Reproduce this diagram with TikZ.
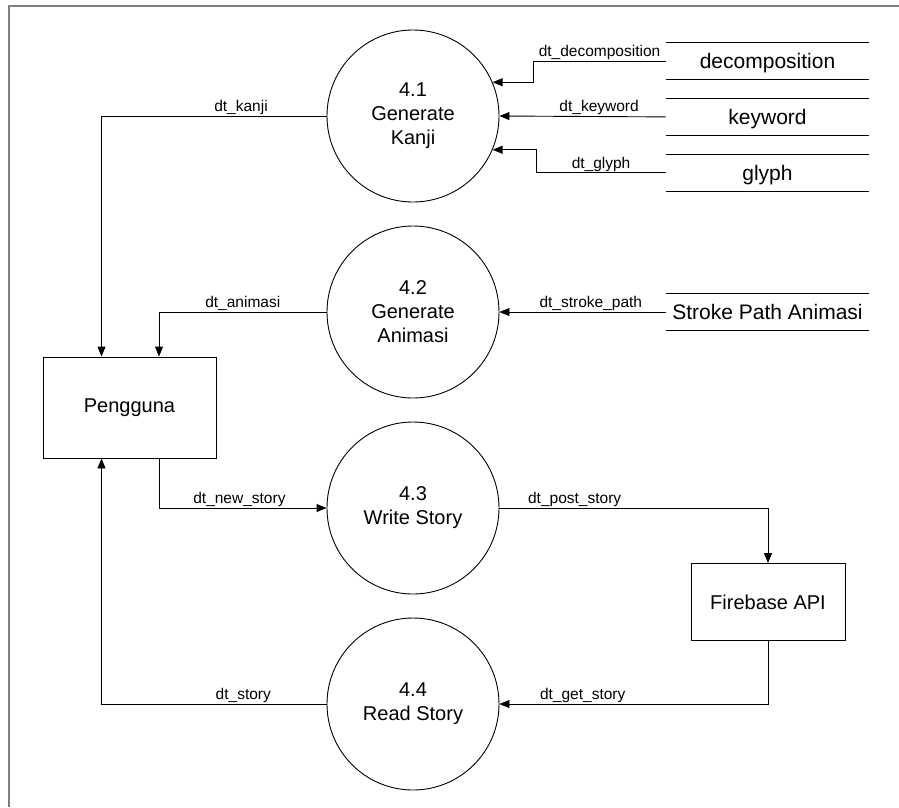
\documentclass[tikz,border=0pt]{standalone}
\usepackage{fontspec}
\setmainfont{Liberation Sans}
\usetikzlibrary{arrows.meta,positioning}

\begin{document}
\begin{tikzpicture}[x=1pt,y=-1pt,>={Triangle[length=10pt,width=8pt]},line width=0.9pt,
  proc/.style={circle,draw,minimum size=172pt,inner sep=0pt,align=center,font=\fontsize{20}{24}\selectfont},
  entity/.style={rectangle,draw,align=center,font=\fontsize{20}{24}\selectfont},
  store/.style={minimum width=203pt,minimum height=36pt,inner sep=0pt,text height=14.5pt,text depth=0pt,
    font=\fontsize{21}{24}\selectfont},
  flow/.style={->},
  lbl/.style={above,inner sep=1pt,font=\fontsize{15.5}{18}\selectfont}]
  \useasboundingbox (0,0) rectangle (899,807);
  \draw[black!50,line width=1.5pt] (9,807) -- (9,6) -- (899,6);

  % processes
  \node[proc] (p41) at (413,116) {4.1\\Generate\\Kanji};
  \node[proc] (p42) at (413,312) {4.2\\Generate\\Animasi};
  \node[proc] (p43) at (413,508) {4.3\\Write Story};
  \node[proc] (p44) at (413,704) {4.4\\Read Story};

  % external entities
  \node[entity,minimum width=173pt,minimum height=101pt] (pengguna) at (129.5,407.5) {Pengguna};
  \node[entity,minimum width=154pt,minimum height=77pt] (firebase) at (768,602) {Firebase API};

  % data stores
  \node[store] (sdec) at (767.5,61) {decomposition};
  \node[store,below=19pt of sdec] (skey) {keyword};
  \node[store,below=19pt of skey] (sgly) {glyph};
  \node[store] (sstr) at (767.5,312) {Stroke Path Animasi};
  \foreach \s in {sdec,skey,sgly,sstr}
    \draw (\s.north west) -- (\s.north east) (\s.south west) -- (\s.south east);

  % flows
  \draw[flow] (sdec.west) -- node[lbl] (ldec) {dt\_decomposition} ++(-132,0) |- (p41.23);
  \draw[flow] (skey.west) -- node[lbl,pos=0.4] (lkey) {dt\_keyword} (p41.east);
  \draw[flow] (sgly.west) -- node[lbl] (lgly) {dt\_glyph} ++(-129,0) |- (p41.337);
  \draw[flow] (sstr.west) -- node[lbl,pos=0.45] (lstr) {dt\_stroke\_path} (p42.east);
  \draw[flow] (p41.west) -| node[lbl,pos=0.19] (lkanji) {dt\_kanji} ([xshift=-28pt]pengguna.north);
  \draw[flow] (p42.west) -| node[lbl,pos=0.25] (lanim) {dt\_animasi} ([xshift=29.5pt]pengguna.north);
  \draw[flow] ([xshift=29.5pt]pengguna.south) |- node[lbl,pos=0.74] (lnew) {dt\_new\_story} (p43.west);
  \draw[flow] (p43.east) -| node[lbl,pos=0.14] (lpost) {dt\_post\_story} (firebase.north);
  \draw[flow] (firebase.south) |- node[lbl,pos=0.845] (lget) {dt\_get\_story} (p44.east);
  \draw[flow] (p44.west) -| node[lbl,pos=0.185] (lstory) {dt\_story} ([xshift=-28pt]pengguna.south);
\end{tikzpicture}
\end{document}
